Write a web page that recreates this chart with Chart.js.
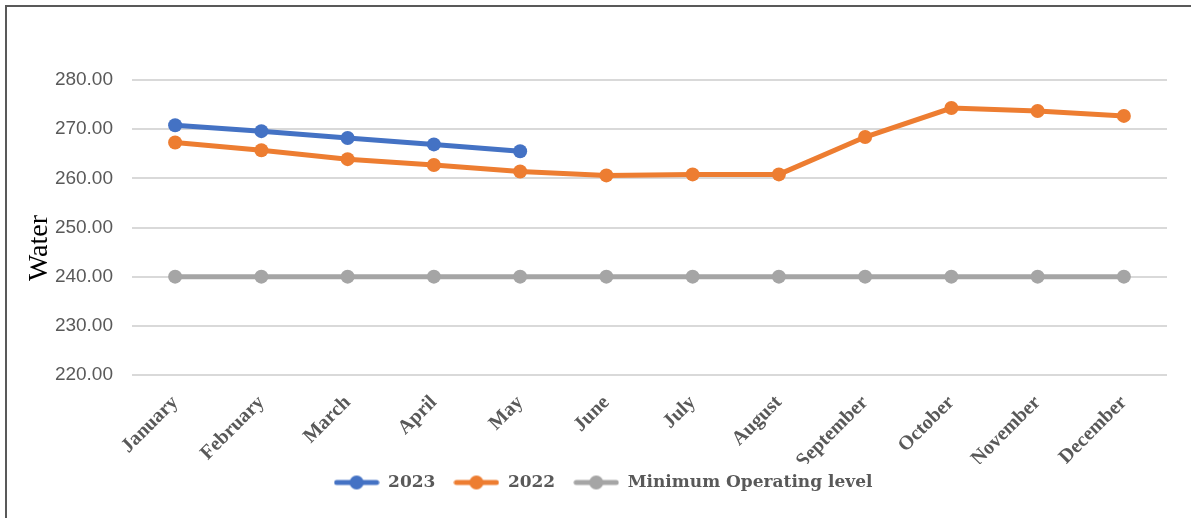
<!DOCTYPE html>
<html>
<head>
<meta charset="utf-8">
<script src="https://cdn.jsdelivr.net/npm/chart.js@4"></script>
<style>
  body { margin: 0; background: #fff; }
  #frame { position: absolute; left: 5px; top: 5px; width: 1186px; height: 513px;
           border-top: 2px solid #595959; border-left: 2px solid #595959; box-sizing: border-box; }
  #waterChart { position: absolute; left: 0; top: 0; }
</style>
</head>
<body>
<div id="frame"></div>
<canvas id="waterChart" width="1191" height="518"></canvas>
<script>
// データ
const months = ['January', 'February', 'March', 'April', 'May', 'June', 'July', 'August', 'September', 'October', 'November', 'December'];
const level2023 = [270.8, 269.6, 268.2, 266.9, 265.5];
const level2022 = [267.3, 265.7, 263.9, 262.7, 261.4, 260.6, 260.8, 260.8, 268.4, 274.3, 273.7, 272.7];
const minOperating = [240, 240, 240, 240, 240, 240, 240, 240, 240, 240, 240, 240];
const yTicks = [220, 230, 240, 250, 260, 270, 280];

const colors = ['#4472C4', '#ED7D31', '#A5A5A5'];

// 凡例用のマーカー（線＋丸）
function legendMarker(color) {
    const c = document.createElement('canvas');
    c.width = 46; c.height = 16;
    const g = c.getContext('2d');
    g.strokeStyle = color; g.lineWidth = 5; g.lineCap = 'round';
    g.beginPath(); g.moveTo(3, 8); g.lineTo(43, 8); g.stroke();
    g.fillStyle = color;
    g.beginPath(); g.arc(23, 8, 7, 0, Math.PI * 2); g.fill();
    return c;
}
const markers = colors.map(legendMarker);

// 縦軸タイトル + 凡例を少し上へ
const yTitlePlugin = {
    id: 'yTitle',
    afterLayout: function (chart) {
        if (chart.legend) {
            chart.legend.top -= 8;
            chart.legend.bottom -= 8;
        }
    },
    afterDraw: function (chart) {
        const c = chart.ctx;
        const area = chart.chartArea;
        c.save();
        c.translate(40, area.top + 168);
        c.rotate(-Math.PI / 2);
        c.fillStyle = '#000';
        c.font = '28px "Liberation Serif", serif';
        c.textAlign = 'center';
        c.textBaseline = 'middle';
        c.fillText('Water', 0, 0);
        c.restore();
    }
};

function lineSet(label, data, color) {
    return {
        label: label,
        data: data,
        borderColor: color,
        backgroundColor: color,
        borderWidth: 5,
        pointRadius: 7,
        pointHoverRadius: 7,
        pointBorderWidth: 0,
        tension: 0
    };
}

const ctx = document.getElementById('waterChart').getContext('2d');
const waterChart = new Chart(ctx, {
    type: 'line',
    data: {
        labels: months,
        datasets: [
            lineSet('2023', level2023, colors[0]),
            lineSet('2022', level2022, colors[1]),
            lineSet('Minimum Operating level', minOperating, colors[2])
        ]
    },
    plugins: [yTitlePlugin],
    options: {
        responsive: false,
        animation: false,
        layout: { padding: { top: 80, right: 24, bottom: 9, left: 39 } },
        scales: {
            x: {
                offset: true,
                grid: { display: false },
                border: { display: false },
                afterFit: function (axis) { axis.height = 89; },
                ticks: {
                    minRotation: 45,
                    maxRotation: 45,
                    autoSkip: false,
                    padding: 8,
                    color: '#595959',
                    font: { family: '"Liberation Serif", serif', size: 20, weight: 'bold' }
                }
            },
            y: {
                min: 220,
                max: 280,
                afterFit: function (axis) { axis.width = 93; },
                afterBuildTicks: function (axis) { axis.ticks = yTicks.map(v => ({ value: v })); },
                grid: { color: '#D9D9D9', lineWidth: 2, drawTicks: false },
                border: { display: false },
                ticks: {
                    padding: 19,
                    color: '#595959',
                    font: { family: '"Liberation Sans", sans-serif', size: 19 },
                    callback: v => v.toFixed(2)
                }
            }
        },
        plugins: {
            tooltip: { enabled: false },
            legend: {
                position: 'bottom',
                labels: {
                    usePointStyle: true,
                    pointStyleWidth: 46,
                    boxHeight: 16,
                    padding: 18,
                    color: '#595959',
                    font: { family: '"DejaVu Serif", serif', size: 17, weight: 'bold' },
                    generateLabels: function (chart) {
                        const items = Chart.defaults.plugins.legend.labels.generateLabels(chart);
                        items.forEach((it, i) => { it.pointStyle = markers[i]; });
                        return items;
                    }
                }
            }
        }
    }
});
</script>
</body>
</html>
